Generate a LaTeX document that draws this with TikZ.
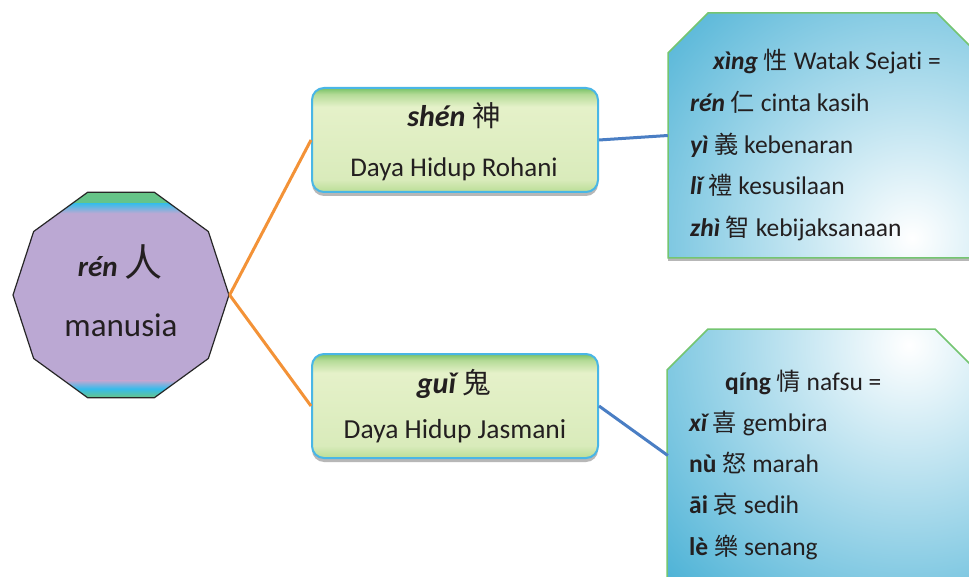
\documentclass[tikz,border=0pt]{standalone}
\usepackage{fontspec}
\setmainfont{Carlito}[Ligatures={NoCommon}]
\newfontfamily\cjk{Noto Sans CJK TC}[Scale=0.95]
\usetikzlibrary{shapes.geometric,shadows}
\definecolor{txt}{HTML}{231F20}
\definecolor{purp}{HTML}{BBA8D3}
\definecolor{bandG}{HTML}{66C486}
\definecolor{bandC}{HTML}{36BCEB}
\definecolor{gTop}{HTML}{78C266}
\definecolor{gHi}{HTML}{B4DB97}
\definecolor{gMid}{HTML}{E5F1C9}
\definecolor{gMidB}{HTML}{D9EBBB}
\definecolor{gBot}{HTML}{BADE96}
\definecolor{gBorder}{HTML}{49B6E6}
\definecolor{rBlue}{HTML}{4CB2D6}
\definecolor{rBorder}{HTML}{74C571}
\definecolor{orangeLine}{HTML}{F39237}
\definecolor{blueLine}{HTML}{4A7EC4}
\pgfdeclareverticalshading{gbox}{100bp}{color(0bp)=(gBot); color(25bp)=(gBot); color(31bp)=(gMidB); color(66bp)=(gMid); color(72bp)=(gHi); color(75bp)=(gTop); color(100bp)=(gTop)}
\newcommand\pybi[1]{{\bfseries\itshape #1}}
\newcommand\pyb[1]{{\bfseries #1}}
\begin{document}
\begin{tikzpicture}[x=1pt,y=-1pt,
  greenbox/.style={rectangle, rounded corners=12pt, minimum width=286pt, minimum height=104pt,
    draw=gBorder, line width=2pt, shading=gbox, shade,
    drop shadow={shadow xshift=0pt, shadow yshift=-4pt, opacity=0.4, fill=black!70}},
  sideshape/.style={draw=rBorder, line width=1.5pt, fill=rBlue,
    drop shadow={shadow xshift=0pt, shadow yshift=-3pt, opacity=0.4, fill=black!70}},
  anchorbox/.style={rectangle, inner sep=0pt, minimum width=309pt},
  lbl/.style={anchor=base, text=txt, inner sep=0pt},
  line/.style={anchor=base west, text=txt, inner sep=0pt, font=\fontsize{25.5}{30}\selectfont},
  orangecon/.style={draw=orangeLine, line width=3pt},
  bluecon/.style={draw=blueLine, line width=3pt}]
\clip (0,0) rectangle (969,577);
\fill[white] (0,0) rectangle (969,577);

% decagon
\node[regular polygon, regular polygon sides=10, minimum size=216pt, inner sep=0pt,
  draw=black!85, line width=1.2pt, fill=purp,
  path picture={
    \fill[top color=bandG, bottom color=bandC] (path picture bounding box.north west) rectangle ([yshift=-11pt]path picture bounding box.north east);
    \fill[top color=bandC, bottom color=purp] ([yshift=-11pt]path picture bounding box.north west) rectangle ([yshift=-21pt]path picture bounding box.north east);
    \fill[bottom color=bandG, top color=bandC] (path picture bounding box.south west) rectangle ([yshift=9pt]path picture bounding box.south east);
    \fill[bottom color=bandC, top color=purp] ([yshift=9pt]path picture bounding box.south west) rectangle ([yshift=17pt]path picture bounding box.south east);
  }] (ren) at (121,295) {};
\node[lbl, font=\fontsize{29}{36}\selectfont] (rent) at (120,277) {\pybi{rén} {\cjk\fontsize{40}{40}\selectfont 人}};
\node[lbl, font=\fontsize{33}{38}\selectfont] (renm) at (121,337) {manusia};

% green boxes
\node[greenbox] (shen) at (455,140) {};
\node[lbl, font=\fontsize{30}{36}\selectfont] (shent) at (454,127) {\pybi{shén} {\cjk 神}};
\node[lbl, font=\fontsize{27}{32}\selectfont] (shend) at (454,177) {Daya Hidup Rohani};

\node[greenbox] (gui) at (455,406) {};
\node[lbl, font=\fontsize{30}{36}\selectfont] (guit) at (454,393) {\pybi{guǐ} {\cjk 鬼}};
\node[lbl, font=\fontsize{27.5}{32}\selectfont] (guid) at (455,438) {Daya Hidup Jasmani};

% side boxes
\path[sideshape,
  path picture={\shade[inner color=white, outer color=rBlue] ([xshift=-65pt,yshift=20pt]path picture bounding box.south east) circle (340pt);}]
  (668,53) -- (708,13) -- (937,13) -- (977,53) -- (977,258) -- (668,258) -- cycle;
\node[anchorbox, minimum height=245pt] (xing) at (822.5,135.5) {};
\node[line] (x1) at (713,70) {\pybi{xìng} {\cjk 性} Watak Sejati =};
\node[line] (x2) at (690,112) {\pybi{rén} {\cjk 仁} cinta kasih};
\node[line] (x3) at (690,154) {\pybi{yì} {\cjk 義} kebenaran};
\node[line] (x4) at (690,195) {\pybi{lǐ} {\cjk 禮} kesusilaan};
\node[line] (x5) at (690,237) {\pybi{zhì} {\cjk 智} kebijaksanaan};

\path[sideshape,
  path picture={\shade[inner color=white, outer color=rBlue] ([xshift=-67pt,yshift=-16pt]path picture bounding box.north east) circle (340pt);}]
  (667,370) -- (708,329) -- (935,329) -- (976,370) -- (976,590) -- (667,590) -- cycle;
\node[anchorbox, minimum height=253pt] (qing) at (822.5,455.5) {};
\node[line] (q1) at (725,390) {\pyb{qíng} {\cjk 情} nafsu =};
\node[line] (q2) at (689,431) {\pybi{xǐ} {\cjk 喜} gembira};
\node[line] (q3) at (689,472) {\pyb{nù} {\cjk 怒} marah};
\node[line] (q4) at (689,513) {\pyb{āi} {\cjk 哀} sedih};
\node[line] (q5) at (689,555) {\pyb{lè} {\cjk 樂} senang};

% connectors
\draw[orangecon] (ren.east) -- (shen.west);
\draw[orangecon] (ren.east) -- (gui.west);
\draw[bluecon] (shen.east) -- (xing.west);
\draw[bluecon] (gui.east) -- (qing.west);
\end{tikzpicture}
\end{document}
